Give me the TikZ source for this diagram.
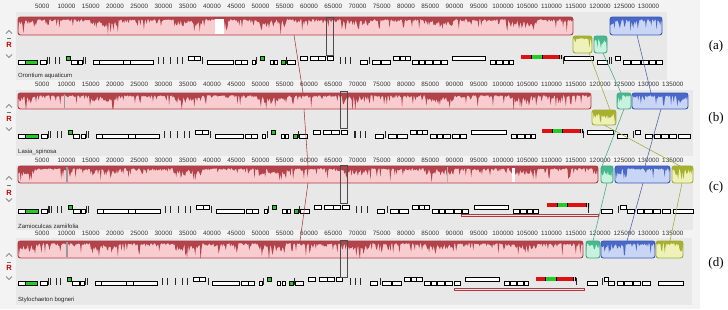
\documentclass[tikz,border=0pt]{standalone}
\usepackage{fontspec}
\setmainfont{Liberation Serif}
\newfontfamily\sansf{Liberation Sans}
\definecolor{pgrey}{HTML}{E8E8E8}
\definecolor{rgrey}{HTML}{F3F3F3}
\definecolor{pinkf}{HTML}{F9CDD0}
\definecolor{pinkd}{HTML}{B3434B}
\definecolor{pinkb}{HTML}{B03840}
\definecolor{bluef}{HTML}{C9D5F5}
\definecolor{blued}{HTML}{4A68C8}
\definecolor{blueb}{HTML}{3858B8}
\definecolor{ygf}{HTML}{EEF2B8}
\definecolor{ygd}{HTML}{A8B030}
\definecolor{ygb}{HTML}{A0AC38}
\definecolor{cyf}{HTML}{C6F2DE}
\definecolor{cyd}{HTML}{48B890}
\definecolor{cyb}{HTML}{40A880}
\definecolor{genegreen}{HTML}{22CC22}
\definecolor{redbar}{HTML}{DD1111}
\newcommand\lcb[7]{%
\begin{scope}
\clip[rounded corners=2.5pt] (#4,#5) rectangle (#6,#7);
\fill[#1] (#4,#5) rectangle (#6,#7);
\pgfmathtruncatemacro\ns{(#6-#4)/0.9+2}
\fill[#2] (#4,#5) -- plot[domain=#4:#6,samples=\ns] (\x,{#5+2.2+4*rnd*rnd+10*(rnd>0.82)*rnd+6*(sin(\x*4.3)>0.5)*rnd}) -- (#6,#5) -- cycle;
\end{scope}
\draw[#3,line width=0.9pt,rounded corners=2.5pt] (#4,#5) rectangle (#6,#7);
}
\newcommand\genelist{18/25/0,25/37/3,40/46/0,47/48/2,49/50/2,55/56/2,59/60/2,66/70/4,71/77/0,78/82/0,83/84/2,85/86/2,93/99/0,99/123/0,123/130/0,130/153/0,158/159/2,163/164/2,170/171/2,177/178/2,182/183/2,188/194/1,194/200/1,202/203/2,207/233/0,235/241/0,241/247/0,252/255/0,256/257/2,260/264/4,270/273/0,274/277/0,281/285/3,286/287/2,287/295/0,300/307/1,310/318/1,318/325/1,327/333/1,340/341/2,345/346/2,350/351/2,360/367/0,369/370/2,372/380/0,381/390/0,393/399/1,400/405/1,405/410/1,412/418/0,419/424/0,425/432/0,433/440/0,441/447/0,452/485/1,490/495/0,496/502/0,503/508/0,509/513/0}
\newcommand\generow[2]{%
\foreach \a/\b/\l in #2 {%
\ifcase\l
\draw[gb] (\a,#1) rectangle (\b,#1+4);
\or
\draw[gb] (\a,#1-4) rectangle (\b,#1);
\or
\fill[black!85] (\a,#1-3) rectangle (\b,#1+4);
\or
\draw[gb,fill=genegreen] (\a,#1) rectangle (\b,#1+4);
\or
\draw[gb,fill=genegreen] (\a,#1-4) rectangle (\b,#1);
\fi}}
\newcommand\redbarx[5]{%
\fill[redbar] (#1,#5) rectangle (#4,#5+4);
\fill[genegreen] (#2,#5) rectangle (#3,#5+4);
\draw[black,line width=0.3pt] (#2,#5) -- (#2,#5+4) (#3,#5) -- (#3,#5+4);
\fill[black] (#4,#5) rectangle (#4+1,#5+4) (#4+2,#5) rectangle (#4+3,#5+4);}
\newcommand\ctrls[4]{%
\draw[black!45,line width=0.9pt] (6,#1+1.5) -- (9,#1-1.5) -- (12,#1+1.5);
\draw[black!55,line width=0.9pt] (7,#2) -- (11,#2);
\node[font=\sansf\bfseries\fontsize{7.5}{7.5}\selectfont,text=red!75!black,inner sep=0.3pt] at (9,#3) {R};
\draw[black!45,line width=0.9pt] (6,#4-1.5) -- (9,#4+1.5) -- (12,#4-1.5);}
\newcommand\rulerrow[2]{%
\foreach \k in {1,...,#2} {\node[rul] at ({18+\k*24.25},#1) {\the\numexpr\k*5000\relax};}}
\begin{document}
\begin{tikzpicture}[x=1pt,y=-1pt,
  gb/.style={draw=black,fill=white,line width=0.35pt},
  rul/.style={font=\sansf\fontsize{6.3}{7}\selectfont,text=black!80,inner sep=0pt},
  nm/.style={font=\sansf\fontsize{6}{7}\selectfont,text=black!85,inner sep=0pt,anchor=west},
  lab/.style={font=\fontsize{13}{14}\selectfont,inner sep=0pt},
  conn/.style={line width=0.55pt},
  thinbox/.style={draw=black!70,line width=0.5pt}]
\pgfmathsetseed{7}
\useasboundingbox (0,0) rectangle (728,309);
\fill[white] (0,0) rectangle (728,309);
\fill[rgrey] (0,0) rectangle (700,309);
% panel backgrounds
\fill[pgrey] (16,12) rectangle (667,80);
\fill[pgrey] (16,90) rectangle (693,156);
\fill[pgrey] (16,165) rectangle (693,230);
\fill[pgrey] (16,238) rectangle (692,305);
% rulers
\rulerrow{6}{26}
\rulerrow{84}{27}
\rulerrow{160}{27}
\rulerrow{233}{27}
% controls
\ctrls{32}{38.5}{45}{56}
\ctrls{106}{112}{119}{129}
\ctrls{178}{185}{193}{200}
\ctrls{255}{262}{268}{278}
% genome names
\node[nm] (na) at (18,76) {Orontium aquaticum};
\node[nm] (nb) at (18,152) {Lasia\_spinosa};
\node[nm] (nc) at (18,226) {Zamioculcas zamiifolia};
\node[nm] (nd) at (18,300) {Stylochaeton bogneri};
% gene rows
\generow{60}{\genelist}
\begin{scope}[xshift=18pt,xscale=1.045,xshift=-18pt]\generow{134}{\genelist}\end{scope}
\begin{scope}[xshift=18pt,xscale=1.05,xshift=-18pt]\generow{209}{\genelist}\end{scope}
\begin{scope}[xshift=18pt,xscale=1.03,xshift=-18pt]\generow{281}{\genelist}\end{scope}
\generow{60}{{563/564/2,564/593/1,597/607/0,609/610/2,611/612/2,615/620/1,623/630/0,631/640/0,641/648/0,649/655/0,656/662/0}}
\generow{134}{{583/584/2,587/613/1,617/627/0,633/634/2,635/640/1,645/652/0,654/660/0,661/668/0,669/676/0,678/690/0}}
\generow{209}{{588/589/2,601/612/0,618/619/2,620/626/1,627/634/0,637/643/0,644/652/0,653/660/0,662/670/0,673/693/0}}
\generow{281}{{576/577/2,587/597/0,602/603/2,604/608/1,608/614/0,617/623/0,624/632/0,633/640/0,642/650/0,658/683/0}}
\redbarx{521}{531}{542}{559}{55}
\redbarx{542}{552}{562}{580}{129}
\redbarx{547}{557}{567}{586}{203}
\redbarx{536}{545}{556}{573}{277}
% red underline boxes
\draw[pinkb,line width=0.5pt] (461,214) rectangle (598,216.5);
\draw[pinkb,line width=0.5pt] (454,288) rectangle (584,290.5);
% blocks panel a
\lcb{pinkf}{pinkd}{pinkb}{18}{17}{573}{35}
\fill[white] (215,18.5) rectangle (224,34);
\lcb{bluef}{blued}{blueb}{610}{17}{662}{35}
\lcb{ygf}{ygd}{ygb}{573}{36}{592}{53}
\lcb{cyf}{cyd}{cyb}{594}{36}{607}{53}
% panel b
\lcb{pinkf}{pinkd}{pinkb}{18}{93}{591}{109}
\fill[black!40] (63.5,94) rectangle (65,108);
\lcb{ygf}{ygd}{ygb}{592}{110}{616}{125}
\lcb{cyf}{cyd}{cyb}{617}{93}{631}{109}
\lcb{bluef}{blued}{blueb}{632}{93}{688}{109}
% panel c
\lcb{pinkf}{pinkd}{pinkb}{18}{166}{598}{183}
\fill[black!40] (66,167) rectangle (68,182);
\fill[black!30] (446.5,167) rectangle (447.5,182);
\fill[white] (512,167.5) rectangle (515,182);
\lcb{cyf}{cyd}{cyb}{601}{166}{613}{183}
\lcb{bluef}{blued}{blueb}{615}{166}{670}{183}
\lcb{ygf}{ygd}{ygb}{672}{166}{693}{183}
% panel d
\lcb{pinkf}{pinkd}{pinkb}{18}{241}{583}{258}
\fill[black!40] (66,242) rectangle (68,257);
\lcb{cyf}{cyd}{cyb}{586}{241}{600}{258}
\lcb{bluef}{blued}{blueb}{601}{241}{655}{258}
\lcb{ygf}{ygd}{ygb}{656}{241}{683}{258}
% thin black boxes
\draw[thinbox] (326,17) rectangle (333,55);
\draw[thinbox] (340,91) rectangle (347,128);
\draw[thinbox] (340,165) rectangle (347,203);
\draw[thinbox] (340,240) rectangle (347,277);
% connectors
\coordinate (r1) at (294,35); \coordinate (r2) at (303,93);
\coordinate (r3) at (304,109); \coordinate (r4) at (308,166);
\coordinate (r5) at (308,183); \coordinate (r6) at (300,241);
\draw[conn,pinkb] (r1) -- (r2) (r3) -- (r4) (r5) -- (r6);
\coordinate (y1) at (589,53); \coordinate (y2) at (610,110);
\coordinate (y3) at (604,125); \coordinate (y4) at (680,166);
\coordinate (y5) at (682,183); \coordinate (y6) at (670,241);
\draw[conn,ygb] (y1) -- (y2) (y3) -- (y4) (y5) -- (y6);
\coordinate (c1) at (603,53); \coordinate (c2) at (621,93);
\coordinate (c3) at (624,109); \coordinate (c4) at (602,166);
\coordinate (c5) at (607,183); \coordinate (c6) at (593,241);
\draw[conn,cyb] (c1) -- (c2) (c3) -- (c4) (c5) -- (c6);
\coordinate (b1) at (637,35); \coordinate (b2) at (651,93);
\coordinate (b3) at (661,109); \coordinate (b4) at (645,166);
\coordinate (b5) at (643,183); \coordinate (b6) at (627,241);
\draw[conn,blueb!80!gray] (b1) -- (b2) (b3) -- (b4) (b5) -- (b6);
% panel labels
\node[lab] (la) at (716,46) {(a)};
\node[lab] (lb) at (716,118) {(b)};
\node[lab] (lc) at (716,187) {(c)};
\node[lab] (ld) at (716,263) {(d)};
\end{tikzpicture}
\end{document}
